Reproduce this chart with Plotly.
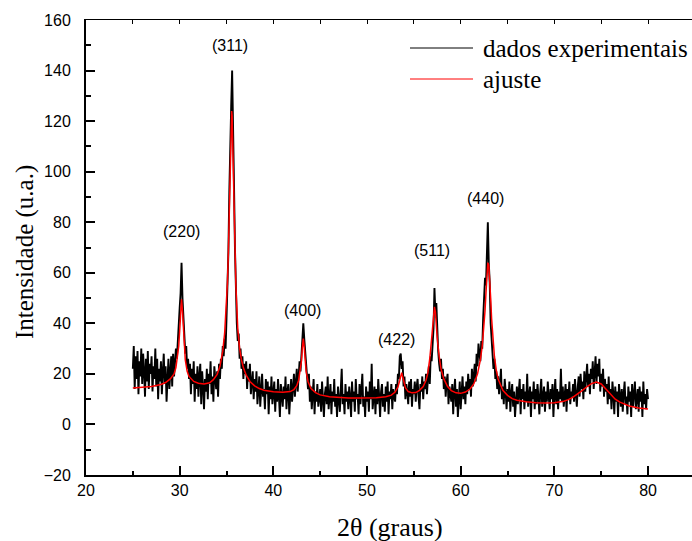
import numpy as np
import plotly.graph_objects as go

# ---------------- data ----------------
scan_start = 25.0   # first 2θ of the scan
scan_step = 0.1     # scan step (degrees)

exp_rows = [
    [22, 31, 14, 27, 18, 29, 12, 25, 19, 30],   # 25
    [16, 28, 21, 11, 26, 17, 29, 14, 24, 20],   # 26
    [27, 13, 23, 18, 30, 15, 26, 10, 22, 17],   # 27
    [25, 12, 21, 28, 16, 23, 9, 20, 26, 14],    # 28
    [22, 27, 15, 28, 19, 25, 30, 26, 35, 38],   # 29
    [46, 52, 64, 50, 40, 36, 28, 31, 22, 26],   # 30
    [18, 24, 12, 22, 16, 25, 9, 20, 14, 23],    # 31
    [11, 19, 24, 8, 21, 15, 6, 18, 13, 22],     # 32
    [10, 20, 16, 25, 12, 19, 9, 23, 17, 14],    # 33
    [21, 11, 24, 18, 26, 22, 31, 27, 34, 30],   # 34
    [42, 52, 68, 92, 118, 126, 140, 122, 95, 70],  # 35
    [52, 40, 33, 36, 26, 30, 22, 27, 18, 24],   # 36
    [20, 25, 14, 22, 17, 24, 12, 19, 21, 10],   # 37
    [18, 13, 21, 8, 16, 19, 7, 15, 20, 11],     # 38
    [14, 6, 18, 12, 17, 4, 15, 10, 19, 8],      # 39
    [13, 17, 5, 14, 9, 18, 11, 3, 16, 12],      # 40
    [7, 15, 10, 19, 6, 13, 16, 4, 12, 18],      # 41
    [9, 14, 20, 11, 16, 22, 13, 19, 25, 21],    # 42
    [27, 32, 40, 34, 29, 21, 18, 14, 20, 9],    # 43
    [15, 6, 12, 18, 4, 13, 9, 16, 7, 11],       # 44
    [14, 5, 17, 10, 3, 12, 15, 8, 19, 6],       # 45
    [11, 16, 4, 13, 9, 18, 7, 12, 3, 15],       # 46
    [10, 5, 14, 22, 8, 12, 4, 16, 9, 13],       # 47
    [6, 15, 11, 3, 17, 9, 13, 5, 18, 10],       # 48
    [12, 4, 16, 8, 14, 20, 7, 11, 3, 15],       # 49
    [9, 13, 5, 17, 10, 24, 6, 12, 15, 4],       # 50
    [14, 8, 18, 11, 3, 13, 16, 7, 12, 5],       # 51
    [15, 9, 17, 4, 13, 10, 16, 6, 14, 11],      # 52
    [9, 16, 12, 20, 18, 27, 28, 22, 25, 15],    # 53
    [19, 10, 16, 13, 8, 17, 11, 18, 7, 14],     # 54
    [12, 17, 9, 15, 18, 11, 6, 16, 13, 19],     # 55
    [10, 17, 14, 20, 12, 18, 23, 16, 27, 25],   # 56
    [33, 38, 54, 44, 48, 36, 29, 24, 21, 26],   # 57
    [18, 22, 14, 19, 11, 17, 20, 8, 15, 12],    # 58
    [9, 16, 4, 13, 18, 7, 14, 3, 11, 17],       # 59
    [6, 13, 19, 10, 15, 8, 17, 12, 20, 14],     # 60
    [18, 11, 22, 15, 20, 24, 17, 28, 23, 32],   # 61
    [28, 25, 33, 30, 42, 50, 58, 55, 72, 80],   # 62
    [64, 56, 40, 33, 28, 22, 26, 18, 21, 14],   # 63
    [19, 12, 16, 22, 10, 15, 8, 18, 13, 6],     # 64
    [14, 9, 17, 5, 12, 16, 7, 13, 3, 11],       # 65
    [15, 8, 12, 18, 4, 14, 10, 16, 6, 13],      # 66
    [9, 20, 7, 12, 15, 3, 13, 10, 17, 6],       # 67
    [14, 8, 16, 11, 4, 13, 18, 7, 12, 15],      # 68
    [5, 13, 9, 17, 11, 6, 14, 10, 16, 3],       # 69
    [12, 18, 8, 14, 6, 13, 10, 22, 9, 15],      # 70
    [7, 12, 16, 5, 14, 10, 17, 8, 13, 11],      # 71
    [16, 9, 18, 12, 7, 15, 19, 11, 20, 14],     # 72
    [17, 10, 21, 13, 19, 24, 15, 20, 12, 22],   # 73
    [18, 25, 14, 21, 27, 16, 24, 19, 26, 13],   # 74
    [20, 15, 22, 11, 18, 13, 16, 8, 19, 10],    # 75
    [14, 6, 17, 12, 4, 15, 9, 13, 3, 16],       # 76
    [10, 7, 14, 5, 12, 17, 8, 11, 4, 15],       # 77
    [9, 13, 3, 16, 7, 12, 17, 6, 11, 14],       # 78
    [5, 15, 9, 13, 3, 17, 8, 12, 6, 14],        # 79
    [10],                                       # 80
]

# fitted curve (ajuste)
fit_x = [25.0, 26.0, 27.0, 28.0, 28.5, 29.0, 29.4, 29.6, 29.8, 29.9, 30.0, 30.1, 30.2,
         30.3, 30.4, 30.5, 30.6, 30.8, 31.0, 31.5, 32.0, 32.6, 33.2, 33.6, 34.0, 34.3,
         34.6, 34.8, 35.0, 35.1, 35.2, 35.3, 35.4, 35.5, 35.55, 35.6, 35.7, 35.8, 35.9,
         36.0, 36.2, 36.4, 36.6, 36.8, 37.1, 37.5, 38.0, 38.5, 39.0, 40.0, 41.0, 41.8,
         42.2, 42.5, 42.7, 42.9, 43.0, 43.1, 43.2, 43.3, 43.4, 43.5, 43.7, 44.0, 44.5,
         45.0, 46.0, 47.0, 48.0, 49.0, 50.0, 51.0, 52.0, 52.6, 53.0, 53.3, 53.5, 53.7,
         53.9, 54.1, 54.4, 54.8, 55.2, 55.6, 56.0, 56.3, 56.5, 56.7, 56.9, 57.0, 57.1,
         57.2, 57.3, 57.4, 57.5, 57.7, 57.9, 58.2, 58.6, 59.0, 59.5, 60.0, 60.5, 61.0,
         61.4, 61.8, 62.1, 62.3, 62.5, 62.6, 62.7, 62.8, 62.9, 63.0, 63.1, 63.2, 63.3,
         63.4, 63.6, 63.8, 64.0, 64.5, 65.0, 65.5, 66.0, 67.0, 68.0, 69.0, 70.0, 71.0,
         71.5, 72.0, 72.5, 73.0, 73.5, 74.0, 74.5, 75.0, 75.5, 76.0, 76.5, 77.0, 77.5,
         78.0, 79.0, 80.0]
fit_y = [14.4, 14.6, 15.0, 15.8, 16.6, 18.0, 20.0, 22.5, 27.0, 31.0, 37.0, 45.0, 49.5,
         45.0, 37.0, 30.0, 25.5, 21.0, 19.0, 17.0, 16.3, 16.0, 16.5, 17.7, 19.8, 23.0,
         29.0, 36.0, 47.0, 56.0, 68.0, 84.0, 104.0, 120.0, 124.0, 122.0, 108.0, 88.0, 69.0,
         55.0, 38.0, 30.0, 25.5, 22.5, 19.5, 17.0, 15.3, 14.2, 13.5, 12.9, 12.7, 13.0,
         13.8, 15.3, 17.5, 21.5, 25.0, 30.5, 34.0, 30.5, 25.0, 21.0, 17.0, 14.3, 12.6,
         11.7, 11.0, 10.7, 10.5, 10.5, 10.5, 10.6, 11.0, 11.6, 12.8, 14.8, 17.5, 20.5,
         17.5, 14.5, 13.0, 12.5, 12.6, 13.5, 15.0, 17.5, 20.5, 26.0, 34.0, 39.0, 44.5,
         46.5, 44.5, 39.0, 34.0, 27.0, 22.0, 18.0, 15.0, 13.4, 12.5, 12.3, 12.8, 14.0,
         16.0, 20.0, 25.5, 31.0, 39.0, 45.0, 52.0, 59.0, 64.0, 63.0, 58.0, 50.0, 42.0,
         36.0, 27.0, 21.5, 18.0, 13.5, 11.5, 10.2, 9.6, 9.0, 8.6, 8.5, 8.6, 9.2,
         9.8, 10.8, 12.0, 13.5, 15.0, 16.2, 16.8, 16.0, 14.0, 11.8, 10.0, 8.8, 8.0,
         7.3, 6.5, 6.1]

peak_labels = ["(220)", "(311)", "(400)", "(422)", "(511)", "(440)"]
peak_label_x = [30.2, 35.37, 43.13, 53.17, 56.9, 62.6]
peak_label_y = [76.3, 150.0, 44.9, 33.6, 68.8, 89.4]

x_ticks = [20, 30, 40, 50, 60, 70, 80]
y_ticks = [-20, 0, 20, 40, 60, 80, 100, 120, 140, 160]

series_names = ["dados experimentais", "ajuste"]
x_title = "2θ (graus)"
y_title = "Intensidade (u.a.)"

# ---------------- build ----------------
exp_y = [v for row in exp_rows for v in row]
exp_x = np.round(scan_start + scan_step * np.arange(len(exp_y)), 2)

SANS = "Liberation Sans, Arial, sans-serif"
SERIF = "Liberation Serif, Times New Roman, serif"

fig = go.Figure()
fig.add_trace(go.Scatter(x=exp_x, y=exp_y, mode="lines", name=series_names[0],
                         line=dict(color="#000000", width=1.9), showlegend=False))
fig.add_trace(go.Scatter(x=fit_x, y=fit_y, mode="lines", name=series_names[1],
                         line=dict(color="#ff0000", width=1.5), showlegend=False))

# invisible trace for top axis
fig.add_trace(go.Scatter(x=[20], y=[0], xaxis="x2", mode="markers",
                         marker=dict(opacity=0), showlegend=False, hoverinfo="skip"))

L, T, B, W, H = 86, 20, 66, 692, 541
plot_w = W - L
plot_h = H - T - B

fig.update_layout(
    width=W, height=H,
    margin=dict(l=L, r=0, t=T, b=B, pad=0),
    paper_bgcolor="white", plot_bgcolor="white",
    xaxis=dict(range=[20, 20 + plot_w / 9.367], tickvals=x_ticks,
               ticks="inside", ticklen=9, tickwidth=1.5, tickcolor="black",
               minor=dict(dtick=5, ticks="inside", ticklen=4, tickwidth=1.5, tickcolor="black"),
               showline=True, linewidth=2, linecolor="black", mirror=False,
               showgrid=False, zeroline=False,
               tickfont=dict(family=SANS, size=16, color="black"),
               ticklabelstandoff=0),
    xaxis2=dict(overlaying="x", side="top", matches="x", range=[20, 20 + plot_w / 9.367],
                tickvals=[25, 30, 35, 40, 45, 50, 55, 60, 65, 70, 75, 80],
                ticks="inside", ticklen=4, tickwidth=1, tickcolor="black",
                showticklabels=False, showline=True, linewidth=1, linecolor="black",
                showgrid=False, zeroline=False),
    yaxis=dict(range=[-20, 160], tickvals=y_ticks,
               ticks="inside", ticklen=9, tickwidth=1.5, tickcolor="black",
               minor=dict(dtick=10, ticks="inside", ticklen=5, tickwidth=1.5, tickcolor="black"),
               showline=True, linewidth=2, linecolor="black", mirror=False,
               showgrid=False, zeroline=False,
               tickfont=dict(family=SANS, size=16, color="black"),
               ticklabelstandoff=10),
)

# peak labels
for txt, px, py in zip(peak_labels, peak_label_x, peak_label_y):
    fig.add_annotation(x=px, y=py, xref="x", yref="y", text=txt, showarrow=False,
                       font=dict(family=SANS, size=16, color="black"),
                       xanchor="center", yanchor="middle")

def pxx(p):
    return (p - L) / plot_w

def pxy(p):
    return (H - B - p) / plot_h

# axis titles
fig.add_annotation(x=pxx(390), y=pxy(527), xref="paper", yref="paper", text=x_title,
                   showarrow=False, font=dict(family=SERIF, size=26, color="black"),
                   xanchor="center", yanchor="middle")
fig.add_annotation(x=pxx(25), y=pxy(252), xref="paper", yref="paper", text=y_title,
                   showarrow=False, textangle=-90,
                   font=dict(family=SERIF, size=25, color="black"),
                   xanchor="center", yanchor="middle")

# legend (drawn manually)
legend_colors = ["#000000", "#ff0000"]
legend_rows = [48, 79]
for name, col, py in zip(series_names, legend_colors, legend_rows):
    fig.add_shape(type="line", xref="paper", yref="paper",
                  x0=pxx(410), x1=pxx(473), y0=pxy(py), y1=pxy(py),
                  line=dict(color=col, width=1))
    fig.add_annotation(x=pxx(481), y=pxy(py), xref="paper", yref="paper", text=name,
                       showarrow=False, font=dict(family=SERIF, size=25, color="black"),
                       xanchor="left", yanchor="middle")

fig.write_html("out.html")
